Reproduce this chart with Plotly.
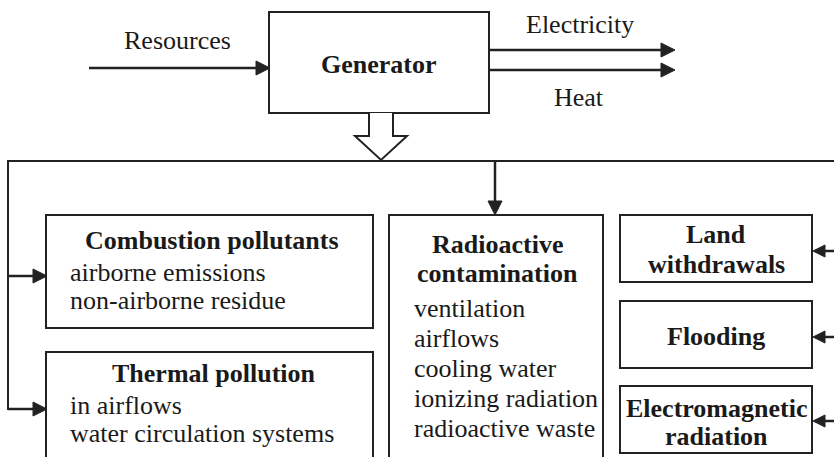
import plotly.graph_objects as go

# ---- Text content (data) ----
generator_label = "Generator"
input_label = "Resources"
output_labels = ["Electricity", "Heat"]
combustion_title = "Combustion pollutants"
combustion_items = ["airborne emissions", "non-airborne residue"]
thermal_title = "Thermal pollution"
thermal_items = ["in airflows", "water circulation systems"]
radio_title = ["Radioactive", "contamination"]
radio_items = ["ventilation", "airflows", "cooling water", "ionizing radiation", "radioactive waste"]
right_boxes = [["Land", "withdrawals"], ["Flooding"], ["Electromagnetic", "radiation"]]

# ---- Layout geometry ----
W, H = 834, 457
LC = "#222222"
TC = "#1a1a1a"
FONT = "Liberation Serif"
FS = 26
LW = 2

fig = go.Figure()
shapes = []
annotations = []


def line(x0, y0, x1, y1, w=LW):
    shapes.append(dict(type="line", x0=x0, y0=y0, x1=x1, y1=y1, xref="x", yref="y",
                       line=dict(color=LC, width=w)))


def rect(x0, y0, x1, y1):
    shapes.append(dict(type="rect", x0=x0, y0=y0, x1=x1, y1=y1, xref="x", yref="y",
                       line=dict(color=LC, width=LW), fillcolor="rgba(0,0,0,0)"))


def head(tx, ty, direction, L=14, hw=7):
    if direction == "right":
        p = f"M {tx},{ty} L {tx-L},{ty-hw} L {tx-L},{ty+hw} Z"
    elif direction == "left":
        p = f"M {tx},{ty} L {tx+L},{ty-hw} L {tx+L},{ty+hw} Z"
    else:  # down
        p = f"M {tx},{ty} L {tx-hw},{ty-L} L {tx+hw},{ty-L} Z"
    shapes.append(dict(type="path", path=p, xref="x", yref="y",
                       fillcolor=LC, line=dict(color=LC, width=1)))


def text(x, y, s, bold=False, anchor="center"):
    annotations.append(dict(x=x, y=y, xref="x", yref="y", text=f"<b>{s}</b>" if bold else s,
                            showarrow=False, xanchor=anchor, yanchor="middle",
                            font=dict(family=FONT, size=FS, color=TC)))


# Generator block
rect(269, 12, 489, 113)
text(379, 64, generator_label, bold=True)

# Resources input
line(89, 68, 258, 68, 2.5)
head(270, 68, "right")
text(177, 40, input_label)

# Outputs
out_y = [50, 70]
for lbl, y in zip(output_labels, out_y):
    line(489, y, 664, y, 2.5)
    head(675, y, "right")
text(580, 24, output_labels[0])
text(579, 97, output_labels[1])

# Hollow arrow
shapes.append(dict(type="path", xref="x", yref="y",
                   path="M 369,113 L 369,136 L 355,136 L 381,160 L 407,136 L 393,136 L 393,113",
                   fillcolor="white", line=dict(color=LC, width=LW)))

# Bus lines
line(8, 161, W + 5, 161)
line(8, 160, 8, 410)
line(8, 276, 36, 276, 2.5)
head(47, 276, "right")
line(8, 409, 36, 409, 2.5)
head(47, 409, "right")
line(495, 161, 495, 203, 2.5)
head(495, 215, "down")

# Combustion box
rect(46, 215, 373, 328)
text(212, 240, combustion_title, bold=True)
for i, s in enumerate(combustion_items):
    text(68, 272.5 + 28 * i, s, anchor="left")

# Thermal box
rect(46, 352, 373, 475)
text(214, 373.5, thermal_title, bold=True)
for i, s in enumerate(thermal_items):
    text(68, 405.5 + 27.5 * i, s, anchor="left")

# Radioactive box
rect(389, 215, 603, 475)
for i, s in enumerate(radio_title):
    text(497, 244 + 29 * i, s, bold=True)
for i, s in enumerate(radio_items):
    text(412, 308 + 30 * i, s, anchor="left")

# Right boxes
rb = [(215, 282), (301, 368), (386, 453)]
label_y = [[234.5, 264], [336], [408, 436]]
arrow_y = [251, 337, 421]
for (y0, y1), labels, ys, ay in zip(rb, right_boxes, label_y, arrow_y):
    rect(620, y0, 812, y1)
    for s, ty in zip(labels, ys):
        text(716, ty, s, bold=True)
    line(824, ay, W + 5, ay, 2.5)
    head(813, ay, "left", L=12, hw=6)

fig.update_layout(
    width=W, height=H,
    margin=dict(l=0, r=0, t=0, b=0),
    paper_bgcolor="white", plot_bgcolor="white",
    xaxis=dict(range=[0, W], visible=False, fixedrange=True),
    yaxis=dict(range=[H, 0], visible=False, fixedrange=True),
    shapes=shapes, annotations=annotations,
    showlegend=False,
)

fig.write_html("out.html", config={"staticPlot": True},
               post_script="document.body.style.margin='0';document.body.style.overflow='hidden';")
